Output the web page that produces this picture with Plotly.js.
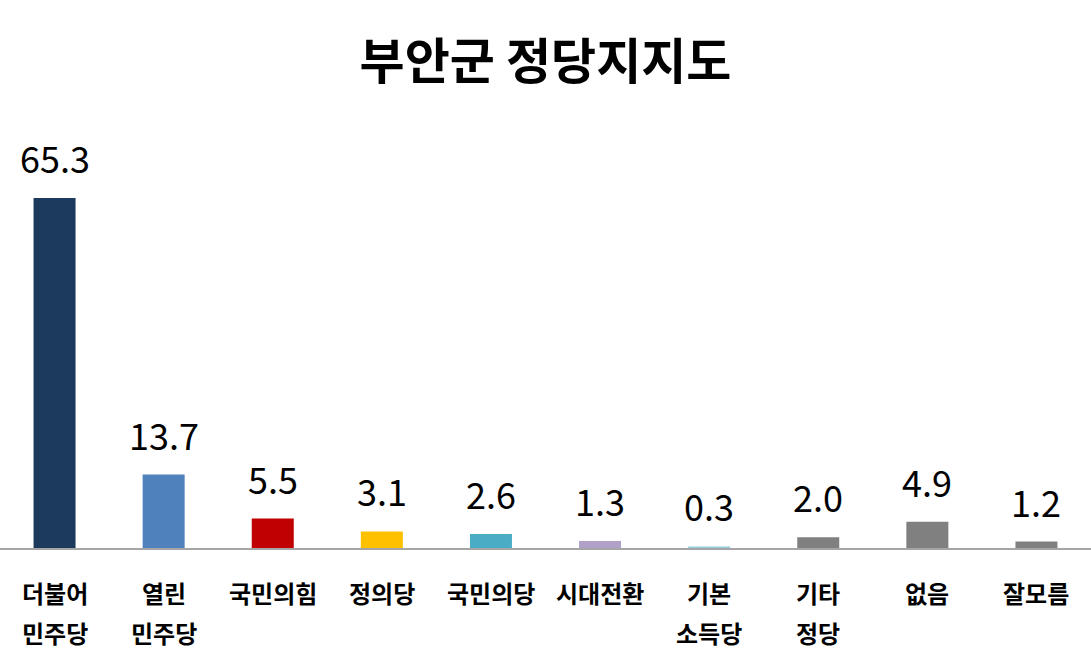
<!DOCTYPE html>
<html>
<head>
<meta charset="utf-8">
<script src="https://cdn.plot.ly/plotly-3.0.1.min.js"></script>
<style>html,body{margin:0;padding:0;background:#fff;}#chart{width:1091px;height:667px;}</style>
</head>
<body>
<div id="chart"></div>
<script>
const categories = ["더불어 민주당","열린 민주당","국민의힘","정의당","국민의당","시대전환","기본 소득당","기타 정당","없음","잘모름"];
const labelLine1 = ["더불어","열린","국민의힘","정의당","국민의당","시대전환","기본","기타","없음","잘모름"];
const labelLine2 = ["민주당","민주당","","","","","소득당","정당","",""];
const values = [65.3, 13.7, 5.5, 3.1, 2.6, 1.3, 0.3, 2.0, 4.9, 1.2];
const colors = ["#1C3A5E","#4F81BD","#C00000","#FFC000","#4BACC6","#B1A0C7","#92CDDC","#808080","#808080","#808080"];

const xs = categories.map((c, i) => i);
const annotations = [];
values.forEach((v, i) => {
  annotations.push({x: i, y: v, xref: 'x', yref: 'y', text: v.toFixed(1), showarrow: false,
    yanchor: 'middle', yshift: 41, font: {family: 'Noto Sans CJK KR, sans-serif', size: 36, color: '#000'}});
  annotations.push({x: i, y: 0, xref: 'x', yref: 'y', text: labelLine1[i], showarrow: false,
    yanchor: 'middle', yshift: -44, font: {family: 'Noto Sans CJK KR, sans-serif', size: 24, color: '#000', weight: 'bold'}});
  if (labelLine2[i]) {
    annotations.push({x: i, y: 0, xref: 'x', yref: 'y', text: labelLine2[i], showarrow: false,
      yanchor: 'middle', yshift: -84, font: {family: 'Noto Sans CJK KR, sans-serif', size: 24, color: '#000', weight: 'bold'}});
  }
});

const trace = {
  type: 'bar', x: xs, y: values,
  marker: {color: colors, line: {width: 0}},
  hoverinfo: 'skip'
};

const layout = {
  width: 1091, height: 667,
  margin: {l: 0, r: 0, t: 100, b: 119},
  paper_bgcolor: '#fff', plot_bgcolor: '#fff',
  title: {text: '부안군 정당지지도', x: 0.5, xanchor: 'center', y: 0.907, yanchor: 'middle',
    font: {family: 'Noto Sans CJK KR, sans-serif', size: 49, color: '#000', weight: 'bold'}},
  bargap: 0.615,
  showlegend: false,
  xaxis: {range: [-0.5, 9.5], showticklabels: false, ticks: '', showgrid: false, zeroline: false,
    showline: true, linecolor: '#A6A6A6', linewidth: 1.5, fixedrange: true},
  yaxis: {range: [0, 83.6], visible: false, showgrid: false, zeroline: false, fixedrange: true},
  annotations: annotations
};

Plotly.newPlot('chart', [trace], layout, {displayModeBar: false, staticPlot: true});
</script>
</body>
</html>
